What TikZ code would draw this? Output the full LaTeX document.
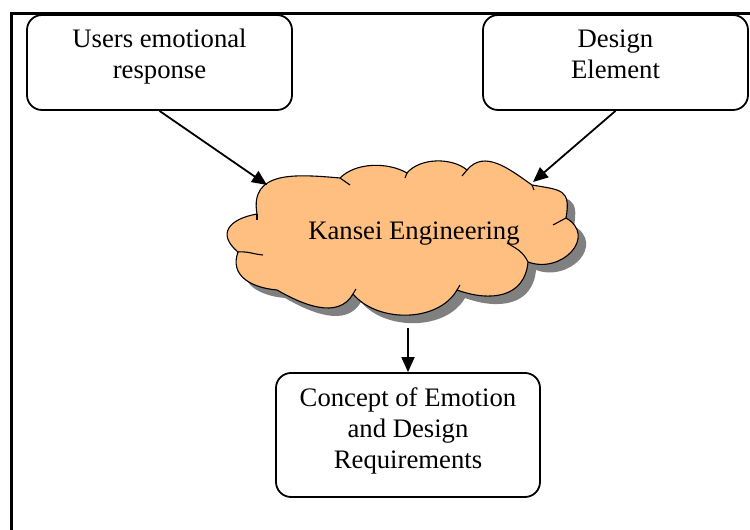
\documentclass[tikz,border=0pt]{standalone}
\usepackage{fontspec}
\setmainfont{Liberation Serif}
\usetikzlibrary{arrows.meta}
\definecolor{cloudfill}{HTML}{FFBF80}
\definecolor{shadowgray}{HTML}{808080}
\begin{document}
\begin{tikzpicture}[x=1pt,y=1pt,
  boxnode/.style={draw, line width=1.8pt, rounded corners=15pt, inner sep=0pt,
    font=\fontsize{26.7}{30.7}\selectfont},
  arr/.style={line width=1.8pt, -{Triangle[length=15pt,width=13pt]}},
  cloudline/.style={line width=1.1pt},
  labeltext/.style={font=\fontsize{26.7}{30.7}\selectfont, inner sep=0pt}]
\useasboundingbox (0,0) rectangle (750,530);
% frame
\draw[line width=3pt] (11.5,0) -- (11.5,516.5) -- (750,516.5);
% boxes
\node[boxnode] (users) at (159.5,467.5)
  {\parbox[c][95pt][t]{265pt}{\centering\rule{0pt}{33pt}Users emotional\\response}};
\node[boxnode] (design) at (615.5,467.5)
  {\parbox[c][95pt][t]{265pt}{\centering\rule{0pt}{33pt}Design\\Element}};
\node[boxnode] (concept) at (408,95)
  {\parbox[c][124pt][t]{264pt}{\centering\rule{0pt}{34pt}Concept of Emotion\\and Design\\Requirements}};
% cloud
\def\cloudpath{(257,316) to[out=100,in=175,looseness=1.25] (340,352)
  to[out=45,in=150,looseness=0.85] (407,357)
  to[out=50,in=140,looseness=0.85] (467,360)
  to[out=50,in=145,looseness=1.05] (532,345)
  to[out=-10,in=80,looseness=1.6] (566,312)
  to[out=-30,in=-20,looseness=1.6] (528,268)
  to[out=-95,in=-20,looseness=1.2] (457,240)
  to[out=-120,in=-50,looseness=0.93] (353,236)
  to[out=-120,in=-30,looseness=1] (277,240)
  to[out=175,in=-110,looseness=1.2] (238,278)
  to[out=140,in=190,looseness=1.7] (257,316) -- cycle}
\fill[shadowgray, shift={(8,-8)}] \cloudpath;
\filldraw[fill=cloudfill, cloudline] \cloudpath;
\draw[cloudline] (238,278) to[out=5,in=175] (263,275);
\draw[cloudline] (257,316) -- (257,310);
\draw[cloudline] (340,352) -- (350,345);
\draw[cloudline] (407,357) -- (405,352);
\draw[cloudline] (467,360) -- (462,354);
\draw[cloudline] (532,345) -- (534,340);
\draw[cloudline] (566,312) -- (553,305);
\draw[cloudline] (528,268) to[out=115,in=-30] (507,287);
\draw[cloudline] (457,240) -- (460,245);
\draw[cloudline] (353,236) -- (356,241);
\node[labeltext, anchor=base] (kansei) at (414,290) {Kansei Engineering};
% connectors
\coordinate (inL) at (267,345);
\coordinate (inR) at (533,348);
\coordinate (outB) at (408,202);
\draw[arr] (users.south) -- (inL);
\draw[arr] (design.south) -- (inR);
\draw[arr] (outB) -- (concept.north);
\end{tikzpicture}
\end{document}
